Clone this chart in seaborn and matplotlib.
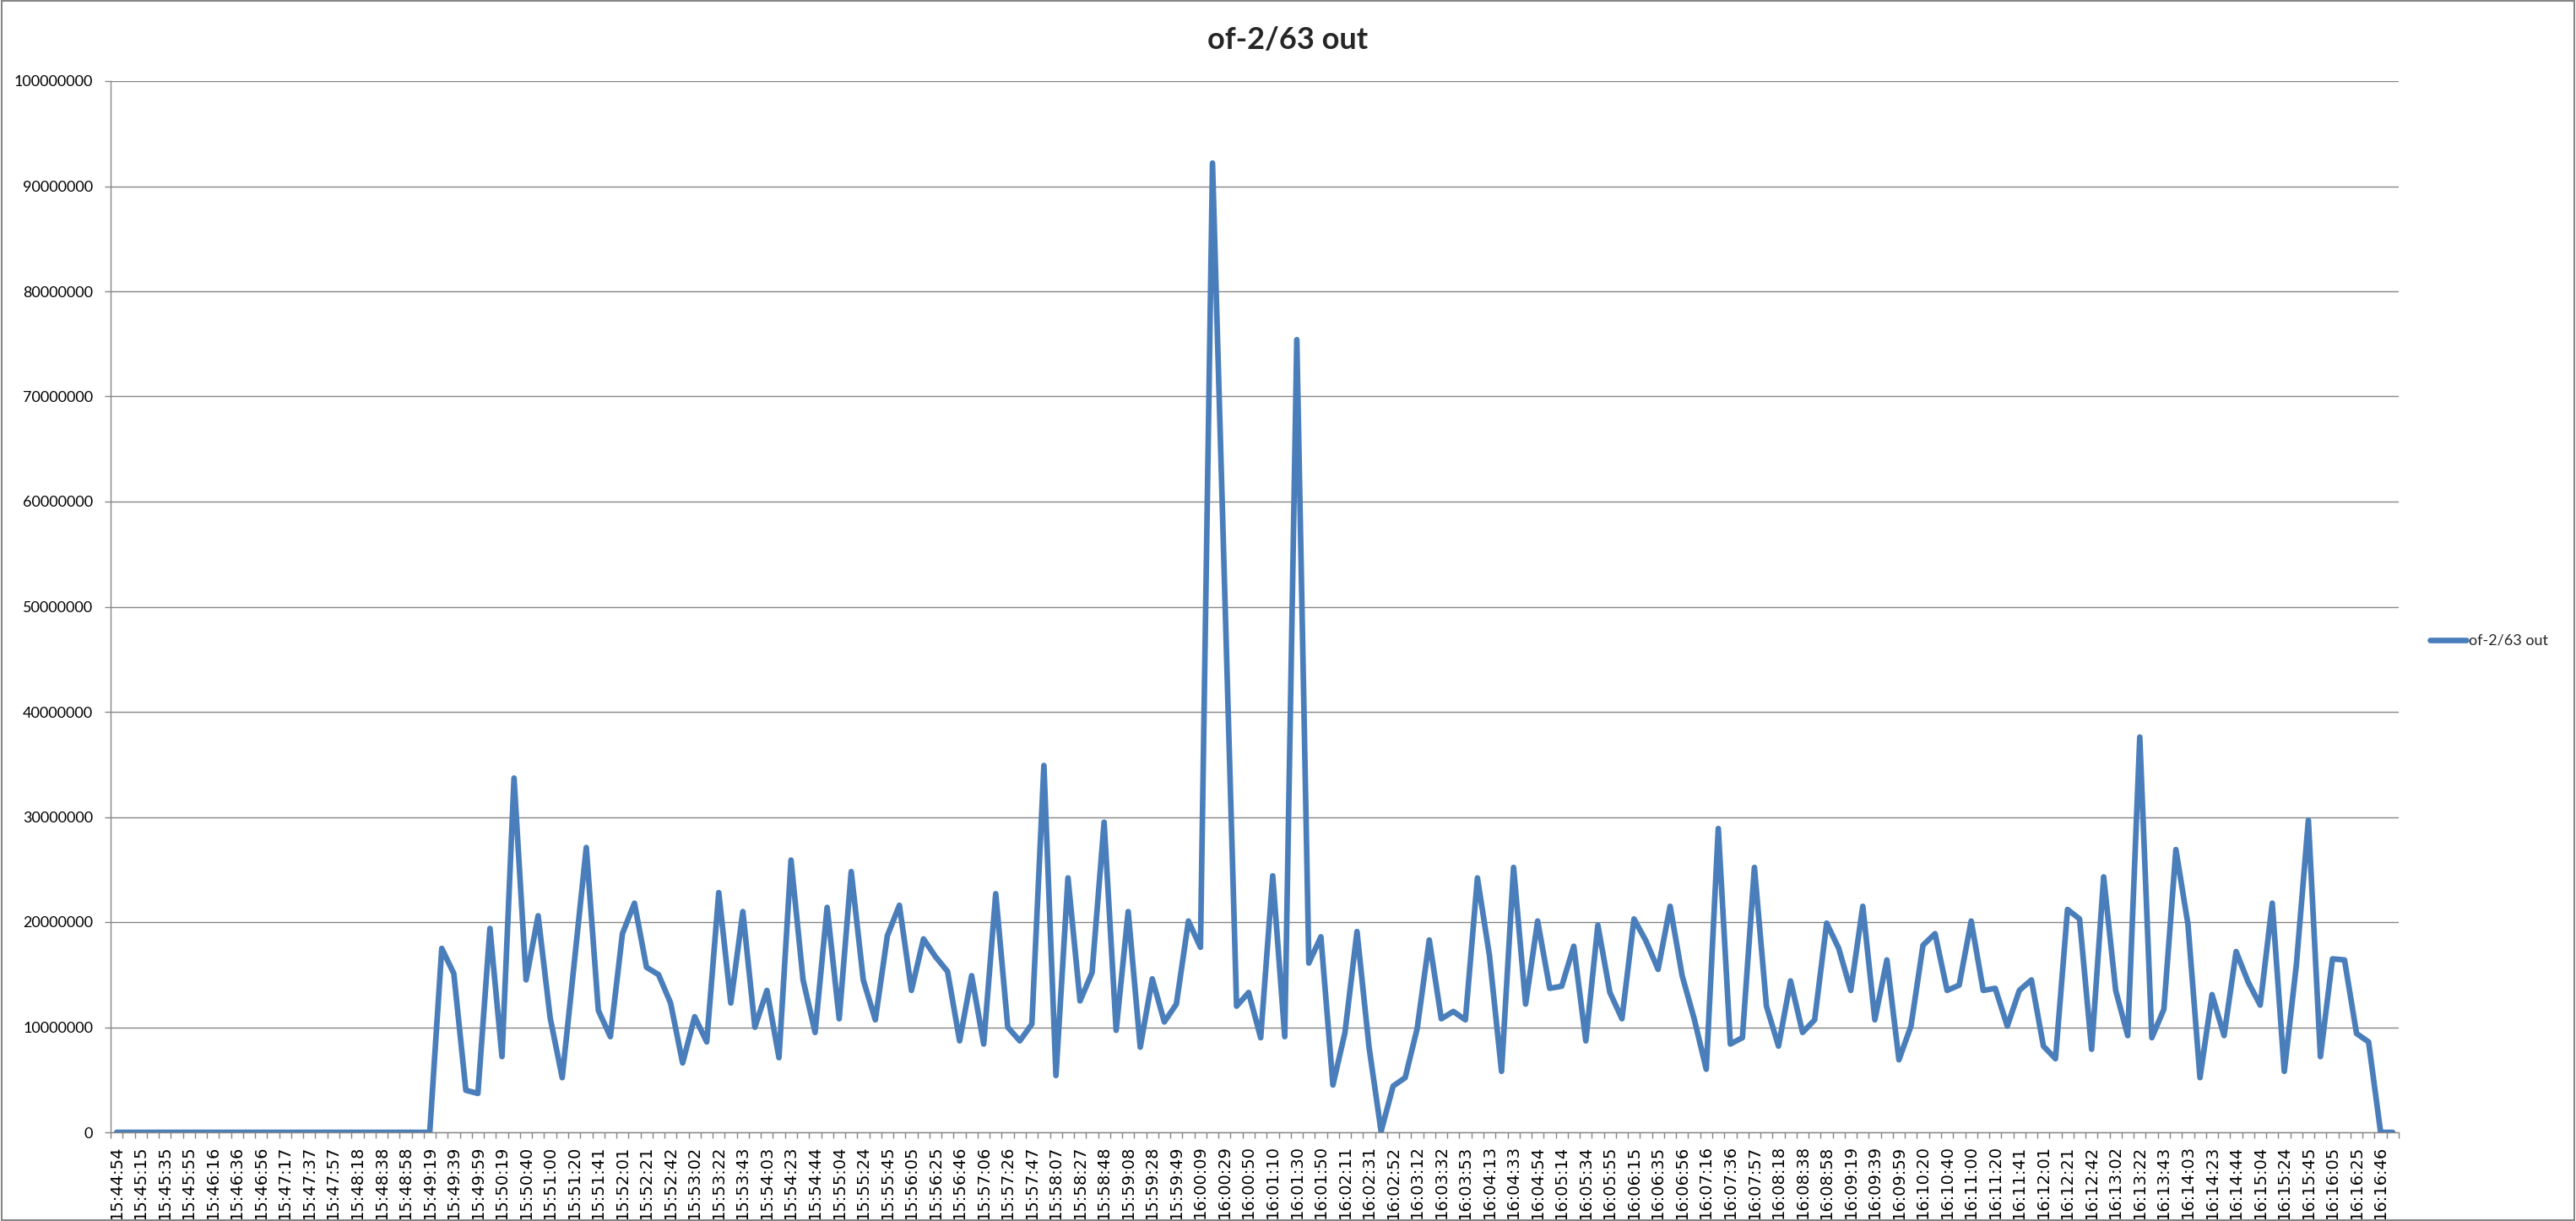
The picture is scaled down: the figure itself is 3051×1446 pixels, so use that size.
import numpy as np
import matplotlib
matplotlib.use("Agg")
import matplotlib.pyplot as plt
from matplotlib.patches import Rectangle
import seaborn as sns

series_name = "of-2/63 out"

# one sample every ~10 s, every second sample is labelled on the axis
tick_labels = [
    "15:44:54", "15:45:15", "15:45:35", "15:45:55", "15:46:16", "15:46:36", "15:46:56", "15:47:17",
    "15:47:37", "15:47:57", "15:48:18", "15:48:38", "15:48:58", "15:49:19", "15:49:39", "15:49:59",
    "15:50:19", "15:50:40", "15:51:00", "15:51:20", "15:51:41", "15:52:01", "15:52:21", "15:52:42",
    "15:53:02", "15:53:22", "15:53:43", "15:54:03", "15:54:23", "15:54:44", "15:55:04", "15:55:24",
    "15:55:45", "15:56:05", "15:56:25", "15:56:46", "15:57:06", "15:57:26", "15:57:47", "15:58:07",
    "15:58:27", "15:58:48", "15:59:08", "15:59:28", "15:59:49", "16:00:09", "16:00:29", "16:00:50",
    "16:01:10", "16:01:30", "16:01:50", "16:02:11", "16:02:31", "16:02:52", "16:03:12", "16:03:32",
    "16:03:53", "16:04:13", "16:04:33", "16:04:54", "16:05:14", "16:05:34", "16:05:55", "16:06:15",
    "16:06:35", "16:06:56", "16:07:16", "16:07:36", "16:07:57", "16:08:18", "16:08:38", "16:08:58",
    "16:09:19", "16:09:39", "16:09:59", "16:10:20", "16:10:40", "16:11:00", "16:11:20", "16:11:41",
    "16:12:01", "16:12:21", "16:12:42", "16:13:02", "16:13:22", "16:13:43", "16:14:03", "16:14:23",
    "16:14:44", "16:15:04", "16:15:24", "16:15:45", "16:16:05", "16:16:25", "16:16:46",
]

# values in millions
idle_start = [0.0] * 27
traffic_a = [17.5, 15.1, 4.0, 3.7, 19.4, 7.2, 33.7, 14.5, 20.6, 10.9, 5.2, 16.1, 27.1, 11.6, 9.1,
             18.9, 21.8, 15.7, 15.0, 12.3, 6.6, 11.0, 8.6, 22.8, 12.3, 21.0, 10.0, 13.5, 7.1, 25.9, 14.5]
traffic_b = [9.5, 21.4, 10.8, 24.8, 14.5, 10.7, 18.7, 21.6, 13.5, 18.4, 16.7, 15.3, 8.7, 14.9, 8.4,
             22.7, 10.0, 8.7, 10.3, 34.9, 5.4, 24.2, 12.5, 15.2, 29.5, 9.7, 21.0, 8.1, 14.6, 10.5,
             12.2, 20.1, 17.6]
traffic_c = [92.2, 52.1, 12.0, 13.3, 9.0, 24.4, 9.1, 75.4, 16.1, 18.6, 4.5, 9.5, 19.1, 8.1, 0.1,
             4.4, 5.2, 9.9, 18.3, 10.8, 11.5, 10.7, 24.2, 16.8, 5.8, 25.2, 12.2, 20.1, 13.7, 13.9,
             17.7, 8.7, 19.7]
traffic_d = [13.3, 10.8, 20.3, 18.2, 15.5, 21.5, 14.9, 10.8, 6.0, 28.9, 8.4, 9.0, 25.2, 12.0, 8.2,
             14.4, 9.5, 10.7, 19.9, 17.5, 13.5, 21.5, 10.7, 16.4, 6.9, 10.1, 17.8, 18.9, 13.5, 14.0,
             20.1, 13.5, 13.7, 10.1]
traffic_e = [13.5, 14.5, 8.2, 7.0, 21.2, 20.3, 7.9, 24.3, 13.5, 9.2, 37.6, 9.0, 11.7, 26.9, 19.8,
             5.2, 13.1, 9.2, 17.2, 14.3, 12.1, 21.8, 5.8, 15.9, 29.7, 7.2, 16.5, 16.4, 9.4, 8.6]
idle_end = [0.0, 0.0]

values = np.array(idle_start + traffic_a + traffic_b + traffic_c + traffic_d + traffic_e + idle_end) * 1e6
pos = np.arange(len(values))

sns.set_theme(style="white")
plt.rcParams['font.family'] = ['Lato', 'DejaVu Sans']

grey = "#868686"
fig = plt.figure(figsize=(30.51, 14.46), dpi=100)
ax = fig.add_axes([131 / 3051, 1 - 1341 / 1446, (2841 - 131) / 3051, (1341 - 96) / 1446])

sns.lineplot(x=pos, y=values, ax=ax, color="#4a7ebb", linewidth=4.8, label=series_name,
             solid_capstyle="round", solid_joinstyle="round")

ax.set_xlim(-0.5, len(values) - 0.5)
ax.set_ylim(0, 100e6)
yt = np.arange(0, 100e6 + 1, 10e6)
ax.set_yticks(yt)
ax.set_yticklabels([str(int(v)) for v in yt], fontsize=13, color="black")
ax.set_xticks(pos[::2])
ax.set_xticklabels(tick_labels, rotation=90, fontsize=14, family="DejaVu Sans",
                   va="top", ha="center", color="black")
ax.set_xticks(np.arange(-0.5, len(values)), minor=True)
ax.tick_params(axis="x", which="major", length=0, pad=11)
ax.tick_params(axis="x", which="minor", length=5, width=1, color=grey, direction="out", bottom=True)
ax.tick_params(axis="y", length=5, width=1, color=grey, direction="out", left=True, pad=10)
ax.set_xlabel("")
ax.set_ylabel("")

ax.yaxis.grid(True, color=grey, linewidth=1.0)
ax.xaxis.grid(False)
for s in ["top", "right"]:
    ax.spines[s].set_visible(False)
for s in ["left", "bottom"]:
    ax.spines[s].set_color(grey)
    ax.spines[s].set_linewidth(1.0)

ax.legend(loc="center left", bbox_to_anchor=(2878 / 3051, 1 - 759 / 1446), bbox_transform=fig.transFigure,
          frameon=False, fontsize=13, handlelength=2.4, handletextpad=0.15, borderpad=0, borderaxespad=0)

fig.text(0.5, 1 - 47 / 1446, series_name, ha="center", va="center", fontsize=26, fontweight="bold")

fig.patches.append(Rectangle((0.0005, 0.001), 0.999, 0.998, transform=fig.transFigure,
                             fill=False, edgecolor=grey, linewidth=1.5))

fig.savefig("out.png", dpi=100)
